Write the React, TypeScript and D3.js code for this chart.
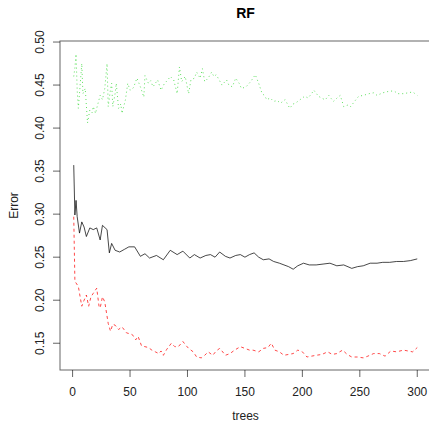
import React from "react";
import * as d3 from "d3";

const xTicks = [0, 50, 100, 150, 200, 250, 300];
const yTicks = [0.15, 0.2, 0.25, 0.3, 0.35, 0.4, 0.45, 0.5];

const oobPoints: [number, number][] = [
  [1,0.357],[2,0.299],[3,0.316],[4,0.297],[6,0.278],[8,0.291],[10,0.285],[12,0.274],[15,0.284],[18,0.282],
  [21,0.284],[24,0.270],[26,0.287],[30,0.282],[32,0.255],[34,0.266],[37,0.258],[41,0.256],[45,0.259],[49,0.262],
  [54,0.262],[59,0.251],[63,0.254],[67,0.249],[73,0.252],[79,0.247],[85,0.258],[91,0.253],[96,0.257],[102,0.249],
  [106,0.253],[111,0.249],[116,0.252],[120,0.253],[124,0.250],[128,0.256],[133,0.251],[137,0.249],[142,0.252],[146,0.253],
  [150,0.250],[154,0.253],[158,0.255],[162,0.250],[166,0.247],[171,0.248],[175,0.245],[180,0.243],[184,0.241],[188,0.239],
  [192,0.236],[196,0.240],[201,0.243],[206,0.241],[212,0.241],[218,0.242],[224,0.243],[230,0.240],[236,0.241],[243,0.237],
  [248,0.239],[253,0.240],[259,0.243],[265,0.243],[270,0.244],[276,0.244],[282,0.245],[288,0.245],[294,0.246],[300,0.248]
];

const class1Points: [number, number][] = [
  [1,0.297],[2,0.222],[3,0.220],[5,0.216],[8,0.193],[10,0.200],[12,0.206],[14,0.193],[16,0.204],[18,0.208],
  [21,0.214],[23,0.193],[24,0.191],[26,0.204],[28,0.198],[31,0.173],[33,0.164],[35,0.172],[37,0.171],[40,0.166],
  [43,0.169],[47,0.162],[50,0.161],[52,0.160],[55,0.154],[57,0.158],[60,0.147],[63,0.146],[66,0.145],[69,0.142],
  [72,0.140],[75,0.138],[77,0.141],[79,0.136],[82,0.143],[86,0.150],[89,0.146],[92,0.146],[96,0.152],[99,0.147],
  [101,0.144],[105,0.140],[108,0.134],[112,0.133],[115,0.136],[118,0.140],[122,0.136],[125,0.141],[128,0.144],[130,0.141],
  [133,0.136],[137,0.138],[141,0.142],[146,0.146],[150,0.144],[154,0.142],[157,0.142],[162,0.140],[166,0.144],[170,0.145],
  [173,0.150],[176,0.142],[180,0.140],[184,0.136],[188,0.137],[192,0.138],[196,0.142],[200,0.140],[204,0.134],[208,0.135],
  [212,0.136],[217,0.137],[222,0.140],[226,0.137],[230,0.138],[235,0.142],[239,0.137],[243,0.134],[248,0.134],[253,0.133],
  [257,0.135],[262,0.138],[267,0.138],[272,0.135],[277,0.141],[282,0.140],[288,0.142],[292,0.141],[296,0.140],[300,0.145]
];

const class2Points: [number, number][] = [
  [1,0.460],[2,0.470],[3,0.486],[4,0.444],[5,0.423],[6,0.440],[8,0.475],[9,0.440],[11,0.446],[13,0.406],
  [15,0.421],[17,0.418],[18,0.425],[20,0.417],[21,0.423],[24,0.438],[26,0.433],[28,0.446],[30,0.475],[31,0.425],
  [33,0.445],[34,0.452],[35,0.425],[37,0.440],[38,0.452],[40,0.423],[42,0.428],[43,0.417],[46,0.433],[48,0.452],
  [50,0.444],[53,0.447],[56,0.458],[59,0.448],[62,0.436],[63,0.461],[66,0.452],[68,0.455],[70,0.448],[72,0.452],
  [74,0.456],[77,0.444],[80,0.452],[83,0.456],[85,0.460],[88,0.456],[91,0.440],[93,0.471],[95,0.454],[98,0.460],
  [101,0.440],[103,0.456],[106,0.458],[108,0.465],[111,0.458],[113,0.469],[115,0.454],[118,0.458],[121,0.465],[123,0.460],
  [125,0.462],[128,0.455],[130,0.450],[134,0.456],[136,0.450],[139,0.448],[142,0.458],[145,0.452],[147,0.446],[151,0.448],
  [155,0.454],[159,0.462],[162,0.452],[165,0.440],[167,0.438],[169,0.433],[172,0.435],[175,0.431],[178,0.432],[181,0.429],
  [185,0.433],[189,0.423],[192,0.428],[194,0.429],[198,0.433],[202,0.437],[205,0.435],[208,0.440],[210,0.444],[214,0.437],
  [218,0.434],[220,0.433],[223,0.438],[227,0.431],[231,0.436],[233,0.438],[236,0.425],[240,0.427],[242,0.425],[246,0.432],
  [249,0.437],[253,0.438],[258,0.440],[262,0.441],[265,0.438],[270,0.441],[276,0.443],[280,0.443],[283,0.440],[288,0.440],
  [292,0.441],[296,0.442],[300,0.438]
];

const W = 429;
const H = 423;
const left = 60;
const right = 431;
const top = 41;
const bottom = 370;
const font = "'Liberation Sans', Arial, Helvetica, sans-serif";

export default function App() {
  const x = d3.scaleLinear().domain([-10.96, 311.96]).range([left, right]);
  const y = d3.scaleLinear().domain([0.1189, 0.5012]).range([bottom, top]);
  const line = d3
    .line<[number, number]>()
    .x((d) => x(d[0]))
    .y((d) => y(d[1]));

  return (
    <svg
      width={W}
      height={H}
      style={{ position: "absolute", left: 0, top: 0, background: "#fff" }}
      fontFamily={font}
    >
      <rect x={0} y={0} width={W} height={H} fill="#fff" />
      <path d={line(oobPoints) || ""} fill="none" stroke="#000" strokeWidth={0.85} strokeOpacity={0.85} />
      <path
        d={line(class1Points) || ""}
        fill="none"
        stroke="#ff0000"
        strokeWidth={0.9}
        strokeOpacity={0.8}
        strokeDasharray="3,3"
      />
      <path
        d={line(class2Points) || ""}
        fill="none"
        stroke="#00cd00"
        strokeWidth={0.9}
        strokeOpacity={0.7}
        strokeDasharray="1,3"
      />
      {/* box */}
      <rect
        x={left}
        y={top}
        width={right - left}
        height={bottom - top}
        fill="none"
        stroke="#000"
        strokeWidth={1}
        opacity={0.6}
      />
      {/* x axis */}
      {xTicks.map((t) => (
        <g key={"x" + t}>
          <line x1={x(t)} x2={x(t)} y1={bottom} y2={bottom + 7} stroke="#000" opacity={0.6} />
          <text x={x(t)} y={396} fontSize={12} textAnchor="middle" fill="#222">
            {t}
          </text>
        </g>
      ))}
      {/* y axis */}
      {yTicks.map((t) => (
        <g key={"y" + t}>
          <line x1={left - 7} x2={left} y1={y(t)} y2={y(t)} stroke="#000" opacity={0.6} />
          <text
            transform={`translate(43.5,${y(t)}) rotate(-90)`}
            fontSize={12}
            textAnchor="middle"
            fill="#222"
          >
            {t.toFixed(2)}
          </text>
        </g>
      ))}
      <text x={(left + right) / 2} y={420} fontSize={12} textAnchor="middle" fill="#222">
        trees
      </text>
      <text
        transform={`translate(18,${(top + bottom) / 2}) rotate(-90)`}
        fontSize={12}
        textAnchor="middle"
        fill="#222"
      >
        Error
      </text>
      <text
        x={(left + right) / 2}
        y={18}
        fontSize={14}
        fontWeight="bold"
        textAnchor="middle"
        fill="#000"
      >
        RF
      </text>
    </svg>
  );
}
